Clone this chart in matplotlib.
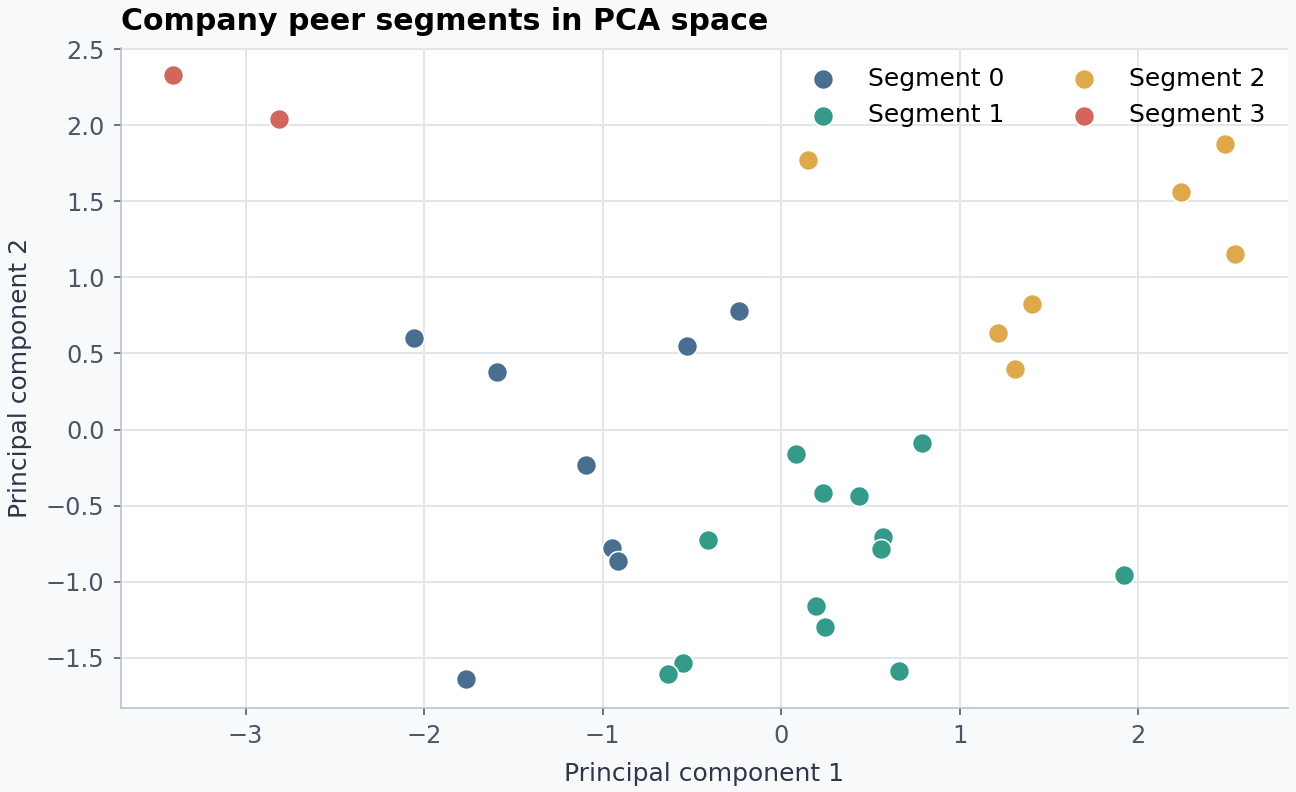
import matplotlib.pyplot as plt
import numpy as np

# PCA coordinates per segment
seg0_x = [-2.055, -1.59, -0.526, -0.235, -1.092, -0.946, -0.913, -1.764]
seg0_y = [0.599, 0.38, 0.546, 0.776, -0.23, -0.776, -0.862, -1.638]

seg1_x = [0.084, 0.789, 0.235, 0.437, -0.409, 0.571, 0.56, 1.92, 0.196, 0.246, -0.549, -0.633, 0.661]
seg1_y = [-0.158, -0.086, -0.414, -0.434, -0.724, -0.704, -0.783, -0.954, -1.158, -1.296, -1.533, -1.605, -1.586]

seg2_x = [0.151, 2.486, 2.24, 2.542, 1.405, 1.215, 1.31]
seg2_y = [1.77, 1.875, 1.559, 1.151, 0.822, 0.632, 0.395]

seg3_x = [-3.404, -2.811]
seg3_y = [2.329, 2.039]

segments = [(seg0_x, seg0_y), (seg1_x, seg1_y), (seg2_x, seg2_y), (seg3_x, seg3_y)]
labels = ['Segment 0', 'Segment 1', 'Segment 2', 'Segment 3']
colors = ['#4a6e8f', '#349a89', '#dea84b', '#d2665d']

fig, ax = plt.subplots(figsize=(9, 5.5), dpi=144)
fig.patch.set_facecolor('#f8f9fb')
ax.set_facecolor('white')

for (xs, ys), lab, col in zip(segments, labels, colors):
    ax.scatter(xs, ys, s=100, color=col, edgecolor='white', linewidth=0.8, label=lab, zorder=3)

ax.set_xlim(-3.7, 2.84)
ax.set_ylim(-1.83, 2.51)
ax.grid(True, color='#e3e5ec', linewidth=1.0, zorder=0)
ax.set_axisbelow(True)
for s in ['top', 'right']:
    ax.spines[s].set_visible(False)
for s in ['left', 'bottom']:
    ax.spines[s].set_color('#b8c0cc')
ax.tick_params(colors='#4a5568', labelsize=12, pad=4.5)

ax.set_xlabel('Principal component 1', fontsize=12.5, color='#2d3748', labelpad=7)
ax.set_ylabel('Principal component 2', fontsize=12.5, color='#2d3748', labelpad=7)
ax.set_title('Company peer segments in PCA space', loc='left', fontsize=15,
             fontweight='bold', pad=9)

ax.legend(ncol=2, frameon=False, fontsize=12.5, loc='upper right', columnspacing=2.2,
          bbox_to_anchor=(1.0, 1.005))

fig.subplots_adjust(left=0.093, right=0.994, top=0.94, bottom=0.106)
fig.savefig('out.png', dpi=144, facecolor=fig.get_facecolor())
